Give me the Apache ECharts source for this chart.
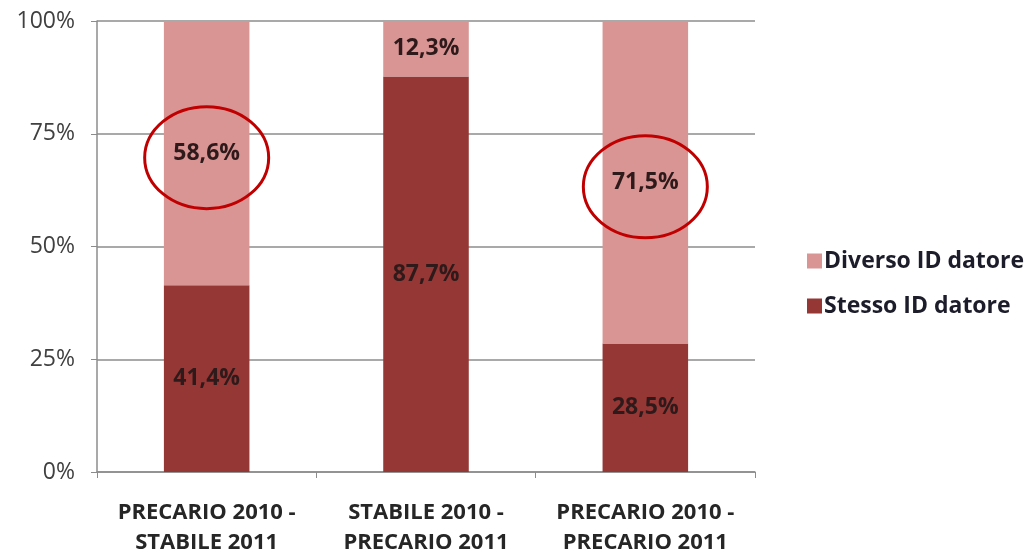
<!DOCTYPE html>
<html><head><meta charset="utf-8">
<script src="https://cdn.jsdelivr.net/npm/echarts@6/dist/echarts.min.js"></script>
<style>html,body{margin:0;padding:0;background:#fff}#c{width:1026px;height:559px}</style>
</head><body><div id="c"></div>
<script>
const categories = ['PRECARIO 2010 -\nSTABILE 2011', 'STABILE 2010 -\nPRECARIO 2011', 'PRECARIO 2010 -\nPRECARIO 2011'];
const stesso = [41.4, 87.7, 28.5];
const diverso = [58.6, 12.3, 71.5];
const yTicks = [0, 25, 50, 75, 100];
const highlighted = [0, 2]; // categories whose "Diverso" label is circled

const fontFam = '"Open Sans", sans-serif';
const chart = echarts.init(document.getElementById('c'));
const lbl = {
  show: true, position: 'inside', fontFamily: fontFam, fontWeight: 'bold', fontSize: 23, color: '#2e1a1a',
  formatter: p => p.value.toFixed(1).replace('.', ',') + '%'
};
chart.setOption({
  animation: false,
  grid: { left: 97, right: 271, top: 21, bottom: 87 },
  legend: {
    orient: 'vertical', left: 802, top: 243, itemGap: 19, itemWidth: 15, itemHeight: 15,
    icon: 'rect',
    textStyle: { fontFamily: fontFam, fontWeight: 'bold', fontSize: 23, lineHeight: 26, color: '#1c1c2a', padding: [0, 0, 0, -3] },
    data: ['Diverso ID datore', 'Stesso ID datore']
  },
  xAxis: {
    type: 'category', data: categories,
    axisLine: { lineStyle: { color: '#8c8c8c', width: 1.5 } },
    axisTick: { show: true, length: 6, lineStyle: { color: '#8c8c8c' } },
    axisLabel: { interval: 0, hideOverlap: false, fontFamily: fontFam, fontWeight: 'bold', fontSize: 22, color: '#262626', margin: 26, lineHeight: 30 }
  },
  yAxis: {
    type: 'value', min: 0, max: 100, interval: 25,
    axisLine: { show: true, lineStyle: { color: '#8c8c8c', width: 1.5 } },
    axisTick: { show: true, length: 6, inside: false, lineStyle: { color: '#8c8c8c' } },
    splitLine: { lineStyle: { color: '#8c8c8c', width: 1.5 } },
    axisLabel: { fontFamily: fontFam, fontSize: 23, color: '#404040', margin: 22,
      formatter: v => yTicks.includes(v) ? v + '%' : '' }
  },
  series: [
    { name: 'Stesso ID datore', type: 'bar', stack: 's', barWidth: '39%', data: stesso,
      itemStyle: { color: '#953735' }, label: lbl },
    { name: 'Diverso ID datore', type: 'bar', stack: 's', barWidth: '39%', data: diverso,
      itemStyle: { color: '#D99594' }, label: lbl }
  ]
});
const g = highlighted.map(i => {
  const c = chart.convertToPixel({ gridIndex: 0 }, [i, stesso[i] + diverso[i] / 2 - 1]);
  return { type: 'ellipse', shape: { cx: c[0], cy: c[1], rx: 62, ry: 51 },
    style: { fill: 'none', stroke: '#C00000', lineWidth: 3 }, z: 100 };
});
chart.setOption({ graphic: g });
</script></body></html>
